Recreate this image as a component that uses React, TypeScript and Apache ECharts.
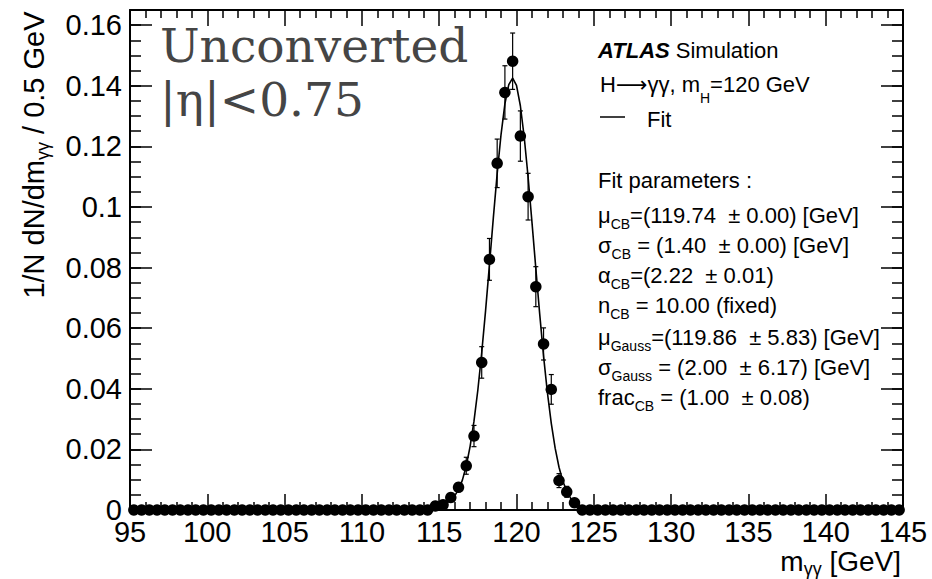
import React, { useEffect, useRef } from 'react';
import * as echarts from 'echarts';

// Bin centres (0.5 GeV bins from 95 to 145 GeV)
const binCenters: number[] = Array.from({ length: 100 }, (_, i) => 95.25 + 0.5 * i);

// 1/N dN/dm per bin
const binValues: number[] = [
  0, 0, 0, 0, 0, 0, 0, 0, 0, 0,
  0, 0, 0, 0, 0, 0, 0, 0, 0, 0,
  0, 0, 0, 0, 0, 0, 0, 0, 0, 0,
  0, 0, 0, 0, 0, 0, 0, 0, 0, 0.0013,
  0.0017, 0.0041, 0.0075, 0.0146, 0.0244, 0.0487, 0.0827, 0.1144, 0.1378, 0.1481,
  0.1234, 0.1034, 0.0737, 0.0548, 0.0398, 0.0097, 0.0060, 0.0024, 0, 0,
  0, 0, 0, 0, 0, 0, 0, 0, 0, 0,
  0, 0, 0, 0, 0, 0, 0, 0, 0, 0,
  0, 0, 0, 0, 0, 0, 0, 0, 0, 0,
  0, 0, 0, 0, 0, 0, 0, 0, 0, 0,
];

// Error bars (bin centre, half-length)
const errMass: number[] = [115.75, 116.25, 116.75, 117.25, 117.75, 118.25, 118.75, 119.25, 119.75, 120.25, 120.75, 121.25, 121.75, 122.25, 122.75, 123.25, 123.75];
const errValues: number[] = [0.0010, 0.0015, 0.0028, 0.0035, 0.0052, 0.0069, 0.0080, 0.0088, 0.0093, 0.0083, 0.0077, 0.0066, 0.0053, 0.0049, 0.0023, 0.0018, 0.0012];

// Fit curve
const fitMass: number[] = [95, 112, 113, 114, 114.5, 115, 115.25, 115.5, 115.75, 116, 116.25, 116.5, 116.75, 117, 117.25, 117.5, 117.75, 118, 118.25, 118.5, 118.75, 119, 119.25, 119.5, 119.75, 120, 120.25, 120.5, 120.75, 121, 121.25, 121.5, 121.75, 122, 122.25, 122.5, 122.75, 123, 123.25, 123.5, 123.75, 124, 124.5, 125, 126, 145];
const fitValues: number[] = [0, 0.00005, 0.00013, 0.00037, 0.00066, 0.00122, 0.00167, 0.00233, 0.00328, 0.00467, 0.00674, 0.00986, 0.01457, 0.0210, 0.0293, 0.0396, 0.0519, 0.0658, 0.0809, 0.0963, 0.1110, 0.1239, 0.1340, 0.1404, 0.1425, 0.1401, 0.1334, 0.1230, 0.1099, 0.0950, 0.0797, 0.0647, 0.0508, 0.0387, 0.0286, 0.0204, 0.0141, 0.0095, 0.0062, 0.0039, 0.0024, 0.0014, 0.0004, 0.0001, 0, 0];

const X_MIN = 95, X_MAX = 145, X_STEP = 5;
const Y_MIN = 0, Y_MAX = 0.165, Y_STEP = 0.02, Y_MINOR = 0.005;

const SANS = 'Liberation Sans, Arial, Helvetica, sans-serif';
const SERIF = 'DejaVu Serif, serif';
const LABEL_SIZE = 29;

const infoLines: { text: string; baseline: number; x: number }[] = [
  { text: '{m|Fit parameters :}', baseline: 188, x: 598 },
  { text: '{m|μ}{s|CB}{m|=(119.74  ± 0.00) [GeV]}', baseline: 223, x: 598 },
  { text: '{m|σ}{s|CB}{m| = (1.40  ± 0.00) [GeV]}', baseline: 253, x: 598 },
  { text: '{m|α}{s|CB}{m|=(2.22  ± 0.01)}', baseline: 283, x: 598 },
  { text: '{m|n}{s|CB}{m| = 10.00 (fixed)}', baseline: 313, x: 598 },
  { text: '{m|μ}{s|Gauss}{m|=(119.86  ± 5.83) [GeV]}', baseline: 345, x: 598 },
  { text: '{m|σ}{s|Gauss}{m| = (2.00  ± 6.17) [GeV]}', baseline: 375, x: 598 },
  { text: '{m|frac}{s|CB}{m| = (1.00  ± 0.08)}', baseline: 405, x: 598 },
];

const richBase = {
  m: { fontSize: 22, fontFamily: SANS, fill: '#000', lineHeight: 50 },
  r: { fontSize: 22, fontFamily: 'DejaVu Sans, sans-serif', fill: '#000', lineHeight: 50 },
  s: { fontSize: 14, fontFamily: SANS, fill: '#000', lineHeight: 14, padding: [17, 0, 0, 0] },
  h: { fontSize: 14, fontFamily: SANS, fill: '#000', lineHeight: 14, padding: [28, 0, 0, 0] },
  b: { fontSize: 22, fontFamily: SANS, fill: '#000', fontWeight: 'bold', fontStyle: 'italic', lineHeight: 50 },
};

function richText(x: number, baseline: number, text: string, fontSize = 22) {
  return {
    type: 'text',
    x,
    y: baseline - 0.3465 * fontSize,
    silent: true,
    style: {
      text,
      rich: richBase,
      align: 'left',
      verticalAlign: 'middle',
      textAlign: 'left',
      textVerticalAlign: 'middle',
    },
  };
}

function plainText(x: number, baseline: number, text: string, fontSize: number, align: string) {
  return {
    type: 'text',
    x,
    y: baseline - 0.3465 * fontSize,
    silent: true,
    style: {
      text,
      fontSize,
      fontFamily: SANS,
      fill: '#000',
      align, verticalAlign: 'middle', textAlign: align, textVerticalAlign: 'middle',
    },
  };
}

function measure(text: string, font: string, fallbackPerChar: number): number {
  try {
    const ctx = document.createElement('canvas').getContext('2d');
    if (ctx) {
      ctx.font = font;
      return ctx.measureText(text).width;
    }
  } catch (e) {
    // ignore
  }
  return text.length * fallbackPerChar;
}

export default function App() {
  const ref = useRef<HTMLDivElement>(null);

  useEffect(() => {
    if (!ref.current) return;
    const chart = echarts.init(ref.current, undefined, { renderer: 'svg' });

    // x-axis title pieces, laid out right-to-left
    const titleRight = 901;
    const titleBase = 571;
    const titleSize = 28;
    const gevW = measure(' [GeV]', `${titleSize}px ${SANS}`, 14);
    const subW = measure('γγ', `18px ${SANS}`, 9);

    const tickLine = { color: '#000', width: 1.5 };
    const baseX = {
      type: 'value' as const,
      min: X_MIN,
      max: X_MAX,
      interval: X_STEP,
      splitLine: { show: false },
      axisLine: { show: true, onZero: false, lineStyle: { color: '#000', width: 2 } },
      axisTick: { show: true, inside: true, length: 16, lineStyle: tickLine },
      minorTick: { show: true, splitNumber: 5, length: 8, lineStyle: tickLine },
      minorSplitLine: { show: false },
    };
    const baseY = {
      type: 'value' as const,
      min: Y_MIN,
      max: Y_MAX,
      splitLine: { show: false },
    };

    const option: any = {
      animation: false,
      backgroundColor: '#fff',
      grid: { left: 130, right: 29, top: 10, bottom: 69, containLabel: false },
      xAxis: [
        {
          ...baseX,
          position: 'bottom',
          axisLabel: { show: true, fontSize: LABEL_SIZE, fontFamily: SANS, color: '#000', margin: 7 },
        },
        {
          ...baseX,
          position: 'top',
          axisLabel: { show: false },
        },
      ],
      yAxis: [
        {
          ...baseY,
          interval: Y_STEP,
          position: 'left',
          axisLine: { show: true, onZero: false, lineStyle: { color: '#000', width: 2 } },
          axisTick: { show: true, inside: true, length: 22, lineStyle: tickLine },
          axisLabel: { show: true, fontSize: LABEL_SIZE, fontFamily: SANS, color: '#000', margin: 8, showMaxLabel: false },
        },
        {
          ...baseY,
          interval: Y_MINOR,
          position: 'left',
          axisLine: { show: false },
          axisTick: { show: true, inside: true, length: 11, lineStyle: tickLine },
          axisLabel: { show: false },
        },
        {
          ...baseY,
          interval: Y_STEP,
          position: 'right',
          axisLine: { show: true, onZero: false, lineStyle: { color: '#000', width: 2 } },
          axisTick: { show: true, inside: true, length: 22, lineStyle: tickLine },
          axisLabel: { show: false },
        },
        {
          ...baseY,
          interval: Y_MINOR,
          position: 'right',
          axisLine: { show: false },
          axisTick: { show: true, inside: true, length: 11, lineStyle: tickLine },
          axisLabel: { show: false },
        },
      ],
      series: [
        {
          name: 'Fit',
          type: 'line',
          xAxisIndex: 0,
          yAxisIndex: 0,
          data: fitMass.map((m, i) => [m, fitValues[i]]),
          showSymbol: false,
          symbol: 'none',
          smooth: false,
          lineStyle: { color: '#000', width: 1.6 },
          z: 3,
        },
        {
          name: 'errors',
          type: 'custom',
          xAxisIndex: 0,
          yAxisIndex: 0,
          data: errMass.map((m, i) => [m, binValues[binCenters.indexOf(m)], errValues[i]]),
          encode: { x: 0, y: 1 },
          renderItem: (_params: any, api: any) => {
            const x = api.value(0);
            const y = api.value(1);
            const e = api.value(2);
            const top = api.coord([x, y + e]);
            const bot = api.coord([x, y - e]);
            const cw = 2.5;
            const st = { stroke: '#000', lineWidth: 1.2 };
            return {
              type: 'group',
              children: [
                { type: 'line', shape: { x1: top[0], y1: top[1], x2: bot[0], y2: bot[1] }, style: st },
                { type: 'line', shape: { x1: top[0] - cw, y1: top[1], x2: top[0] + cw, y2: top[1] }, style: st },
                { type: 'line', shape: { x1: bot[0] - cw, y1: bot[1], x2: bot[0] + cw, y2: bot[1] }, style: st },
              ],
            };
          },
          z: 4,
        },
        {
          name: 'MC',
          type: 'scatter',
          xAxisIndex: 0,
          yAxisIndex: 0,
          data: binCenters.map((m, i) => [m, binValues[i]]),
          symbol: 'circle',
          symbolSize: 11.5,
          itemStyle: { color: '#000', opacity: 1 },
          clip: false,
          z: 5,
        },
      ],
      graphic: [
        {
          type: 'text',
          x: 160,
          y: 61.7 - 0.346 * 47,
          silent: true,
          style: {
            text: 'Unconverted',
            fontSize: 47,
            fontFamily: SERIF,
            fill: '#454545',
            align: 'left', verticalAlign: 'middle', textAlign: 'left', textVerticalAlign: 'middle',
          },
        },
        {
          type: 'text',
          x: 160,
          y: 115.5 - 0.346 * 47,
          silent: true,
          style: {
            text: '|η|<0.75',
            fontSize: 47,
            fontFamily: SERIF,
            fill: '#454545',
            align: 'left', verticalAlign: 'middle', textAlign: 'left', textVerticalAlign: 'middle',
          },
        },
        richText(598, 58, '{b|ATLAS}{m| Simulation}'),
        richText(600, 92, '{m|H}{r|⟶}{m|γγ, m}{h|H}{m|=120 GeV}'),
        {
          type: 'line',
          silent: true,
          shape: { x1: 600, y1: 117, x2: 625, y2: 117 },
          style: { stroke: '#000', lineWidth: 1.5 },
        },
        richText(647, 127, '{m|Fit}'),
        ...infoLines.map((l) => richText(l.x, l.baseline, l.text)),
        {
          type: 'text',
          x: 34,
          y: 155,
          rotation: Math.PI / 2,
          silent: true,
          style: {
            text: '{a|1/N dN/dm}{s|γγ}{a| / 0.5 GeV}',
            rich: {
              a: { fontSize: 29, fontFamily: SANS, fill: '#000', lineHeight: 56 },
              s: { fontSize: 18, fontFamily: SANS, fill: '#000', lineHeight: 18, padding: [18, 0, 0, 0] },
            },
            align: 'center', verticalAlign: 'middle', textAlign: 'center', textVerticalAlign: 'middle',
          },
        },
        plainText(titleRight, titleBase, ' [GeV]', titleSize, 'right'),
        plainText(titleRight - gevW, titleBase + 4.5, 'γγ', 18, 'right'),
        plainText(titleRight - gevW - subW, titleBase, 'm', titleSize, 'right'),
      ],
    };

    chart.setOption(option);
    return () => chart.dispose();
  }, []);

  return (
    <div
      ref={ref}
      style={{ position: 'absolute', left: 0, top: 0, width: 932, height: 579, background: '#fff' }}
    />
  );
}
